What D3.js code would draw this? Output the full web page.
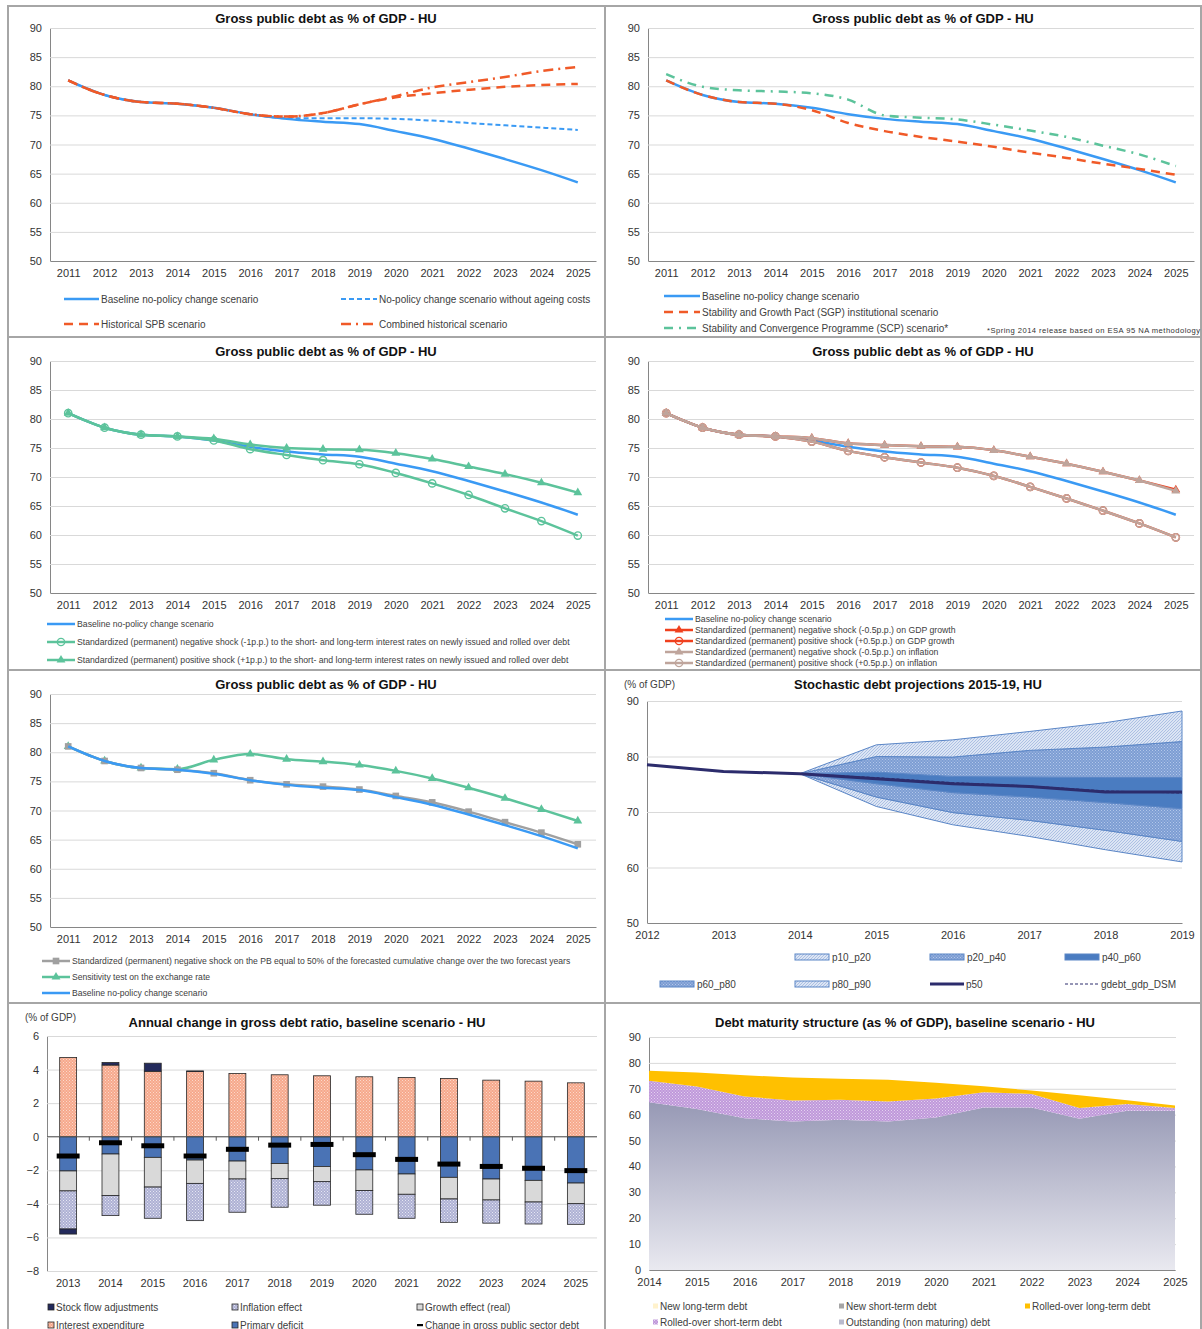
<!DOCTYPE html>
<html lang="en">
<head>
<meta charset="UTF-8">
<title>Debt sustainability - HU</title>
<script src="https://cdn.jsdelivr.net/npm/d3@7"></script>
<style>
  body { margin: 0; background: #fff; }
</style>
</head>
<body>
<svg width="1202" height="1329"></svg>
<script>
// ---- data ----
const years = [2011, 2012, 2013, 2014, 2015, 2016, 2017, 2018, 2019, 2020, 2021, 2022, 2023, 2024, 2025];
const baseline = [81.0, 78.5, 77.3, 77.0, 76.3, 75.2, 74.4, 73.9, 73.5, 72.3, 71.0, 69.3, 67.5, 65.6, 63.5];
const noAgeing = [81.0, 78.5, 77.3, 77.0, 76.3, 75.2, 74.5, 74.5, 74.5, 74.4, 74.1, 73.7, 73.3, 72.9, 72.5];
const histSpb = [81.0, 78.5, 77.3, 77.0, 76.3, 75.2, 74.8, 75.4, 76.9, 78.1, 78.8, 79.4, 79.9, 80.2, 80.4];
const combinedHist = [81.0, 78.5, 77.3, 77.0, 76.3, 75.2, 74.8, 75.4, 76.9, 78.3, 79.8, 80.7, 81.6, 82.6, 83.3];
const sgp = [81.0, 78.5, 77.3, 77.0, 75.9, 73.7, 72.3, 71.3, 70.5, 69.6, 68.6, 67.7, 66.7, 65.8, 64.8];
const scp = [82.1, 79.9, 79.3, 79.1, 78.8, 77.7, 75.0, 74.6, 74.3, 73.4, 72.4, 71.3, 69.8, 68.3, 66.3];
const irNeg = [81.0, 78.5, 77.3, 77.0, 76.3, 74.8, 73.8, 72.9, 72.2, 70.7, 68.9, 66.9, 64.6, 62.4, 59.9];
const irPos = [81.0, 78.5, 77.3, 77.0, 76.6, 75.6, 75.0, 74.8, 74.7, 74.1, 73.1, 71.8, 70.5, 69.0, 67.3];
const gdpNeg = [81.0, 78.5, 77.3, 77.0, 76.7, 75.8, 75.5, 75.3, 75.2, 74.6, 73.5, 72.3, 70.9, 69.4, 67.8];
const gdpPos = [81.0, 78.5, 77.3, 77.0, 76.1, 74.5, 73.4, 72.5, 71.6, 70.2, 68.3, 66.3, 64.2, 62.0, 59.6];
const inflNeg = [81.0, 78.5, 77.3, 77.0, 76.7, 75.8, 75.5, 75.3, 75.2, 74.6, 73.5, 72.3, 70.9, 69.4, 67.6];
const inflPos = [81.0, 78.5, 77.3, 77.0, 76.1, 74.5, 73.4, 72.5, 71.6, 70.2, 68.3, 66.3, 64.2, 62.0, 59.6];
const pbShock = [81.0, 78.5, 77.3, 77.0, 76.4, 75.2, 74.5, 74.1, 73.6, 72.5, 71.4, 69.8, 68.0, 66.2, 64.2];
const exchRate = [81.0, 78.5, 77.3, 77.1, 78.7, 79.7, 78.8, 78.4, 77.8, 76.8, 75.5, 73.9, 72.1, 70.2, 68.2];
const yTicksDebt = [50, 55, 60, 65, 70, 75, 80, 85, 90];

const stochYears = [2012, 2013, 2014, 2015, 2016, 2017, 2018, 2019];
const p50 = [78.5, 77.3, 76.9, 76.0, 75.1, 74.6, 73.6, 73.6];
const dsm = [78.5, 77.3, 76.9, 76.2, 75.3, 74.7, 73.8, 73.4];
const fanYears = [2014, 2015, 2016, 2017, 2018, 2019];
const p10 = [76.9, 71.0, 67.7, 65.6, 63.2, 61.0];
const p20 = [76.9, 72.7, 69.9, 68.5, 66.7, 64.7];
const p40 = [76.9, 75.1, 73.5, 72.7, 71.7, 70.6];
const p60 = [76.9, 77.2, 76.4, 76.3, 76.2, 76.2];
const p80 = [76.9, 80.0, 79.9, 81.1, 81.7, 82.7];
const p90 = [76.9, 82.1, 83.0, 84.5, 86.1, 88.2];
const yTicksStoch = [50, 60, 70, 80, 90];

const barYears = [2013, 2014, 2015, 2016, 2017, 2018, 2019, 2020, 2021, 2022, 2023, 2024, 2025];
const primaryDef = [-2.04, -1.03, -1.23, -1.39, -1.45, -1.60, -1.77, -1.98, -2.22, -2.42, -2.52, -2.60, -2.76];
const interestExp = [4.72, 4.27, 3.90, 3.88, 3.77, 3.69, 3.63, 3.57, 3.53, 3.47, 3.37, 3.31, 3.21];
const growthEff = [-1.19, -2.47, -1.77, -1.39, -1.07, -0.90, -0.91, -1.23, -1.21, -1.29, -1.25, -1.29, -1.23];
const inflationEff = [-2.27, -1.20, -1.86, -2.22, -1.98, -1.70, -1.40, -1.41, -1.43, -1.39, -1.38, -1.31, -1.23];
const stockFlow = [-0.30, 0.15, 0.48, 0.04, 0, 0, 0, 0, 0, 0, 0, 0, 0];
const debtChange = [-1.15, -0.36, -0.54, -1.15, -0.75, -0.50, -0.46, -1.07, -1.35, -1.63, -1.77, -1.88, -2.02];
const yTicksBars = [-8, -6, -4, -2, 0, 2, 4, 6];

const matYears = [2014, 2015, 2016, 2017, 2018, 2019, 2020, 2021, 2022, 2023, 2024, 2025];
const outstanding = [64.8, 62.2, 58.6, 57.4, 58.0, 57.4, 58.9, 62.8, 62.8, 58.4, 61.5, 61.5];
const rolledShort = [8.3, 8.7, 8.4, 8.1, 7.8, 7.7, 7.3, 5.9, 5.2, 4.2, 2.6, 1.1];
const rolledLong = [3.9, 5.4, 8.2, 8.9, 8.1, 8.4, 6.1, 2.3, 1.3, 4.9, 1.5, 0.9];
const newShort = [0, 0, 0, 0, 0, 0, 0, 0, 0, 0, 0, 0];
const newLong = [0, 0, 0, 0, 0, 0, 0, 0, 0, 0, 0, 0];
const yTicksMat = [0, 10, 20, 30, 40, 50, 60, 70, 80, 90];

// ---- setup ----
const FONT = '"Liberation Sans", Arial, Helvetica, sans-serif';
const BLUE = '#3a9af4', ORANGE = '#f05a28', TEAL = '#5cc39b', BROWN = '#bfa59c', GREY = '#a0a0a0';
const svg = d3.select('svg').attr('font-family', FONT);
const defs = svg.append('defs');

function dotPattern(id, bg, fg, size) {
  const p = defs.append('pattern').attr('id', id).attr('patternUnits', 'userSpaceOnUse')
    .attr('width', size).attr('height', size);
  p.append('rect').attr('width', size).attr('height', size).attr('fill', bg);
  p.append('rect').attr('width', 1).attr('height', 1).attr('fill', fg);
  p.append('rect').attr('x', size / 2).attr('y', size / 2).attr('width', 1).attr('height', 1).attr('fill', fg);
}
function hatchPattern(id, bg, fg, size) {
  const p = defs.append('pattern').attr('id', id).attr('patternUnits', 'userSpaceOnUse')
    .attr('width', size).attr('height', size);
  p.append('rect').attr('width', size).attr('height', size).attr('fill', bg);
  p.append('path').attr('d', `M0,${size}L${size},0M-1,1L1,-1M${size - 1},${size + 1}L${size + 1},${size - 1}`)
    .attr('stroke', fg).attr('stroke-width', 0.8);
}
hatchPattern('fanLight', '#dce5f4', '#9fb6de', 3);
dotPattern('fanMed', '#7c9dd3', '#b3c7ea', 3);
dotPattern('dotSalmon', '#f6a88c', '#fcd9ca', 3);
dotPattern('dotLav', '#aeb1d4', '#e6e7f3', 3);
dotPattern('dotPurple', '#bf98da', '#e4d2f0', 3);
const grad = defs.append('linearGradient').attr('id', 'gradOut').attr('x1', 0).attr('y1', 0).attr('x2', 0).attr('y2', 1);
grad.append('stop').attr('offset', '0%').attr('stop-color', '#9799b5');
grad.append('stop').attr('offset', '100%').attr('stop-color', '#e9e9f0');

// panel frames
const frames = [[8, 6, 597, 331], [605, 6, 596, 331], [8, 337, 597, 333], [605, 337, 596, 333],
                [8, 670, 597, 333], [605, 670, 596, 333], [8, 1003, 597, 330], [605, 1003, 596, 330]];
svg.selectAll('rect.frame').data(frames).join('rect').attr('class', 'frame')
  .attr('x', d => d[0]).attr('y', d => d[1]).attr('width', d => d[2]).attr('height', d => d[3])
  .attr('fill', 'none').attr('stroke', '#a6a6a6').attr('stroke-width', 2);

function styleAxis(a) {
  a.attr('font-family', FONT).attr('font-size', 11);
  a.selectAll('text').attr('fill', '#333');
  a.select('.domain').attr('stroke', '#868686');
  a.selectAll('.tick line').attr('stroke', '#d9d9d9');
}
function title(x, y, txt) {
  svg.append('text').attr('x', x).attr('y', y).attr('text-anchor', 'middle')
    .attr('font-size', 13).attr('font-weight', 'bold').attr('fill', '#111').text(txt);
}
function markerShape(m) {
  if (m === 'tri') return d3.symbol(d3.symbolTriangle, 34)();
  if (m === 'circ') return d3.symbol(d3.symbolCircle, 42)();
  return d3.symbol(d3.symbolSquare, 44)();
}
function markerStyle(sel, m, color) {
  if (m === 'circ') sel.attr('fill', 'none').attr('stroke', color).attr('stroke-width', 1.4);
  else sel.attr('fill', color).attr('stroke', 'none');
}
function legend(items, fs) {
  items.forEach(it => {
    svg.append('line').attr('x1', it.x).attr('x2', it.x + it.len).attr('y1', it.y).attr('y2', it.y)
      .attr('stroke', it.color).attr('stroke-width', it.width || 2.5).attr('stroke-dasharray', it.dash || null);
    if (it.marker) {
      svg.append('path').attr('transform', `translate(${it.x + it.len / 2},${it.y})`)
        .attr('d', markerShape(it.marker)).call(markerStyle, it.marker, it.color);
    }
    svg.append('text').attr('x', it.x + it.len + 2).attr('y', it.y).attr('dy', '0.35em')
      .attr('font-size', fs).attr('fill', '#404040').text(it.label);
  });
}

function linePanel(o) {
  const g = svg.append('g');
  const x = d3.scalePoint().domain(years).range([o.left, o.right]).padding(0.5);
  const y = d3.scaleLinear().domain([50, 90]).range([o.bottom, o.top]);
  g.append('g').attr('transform', `translate(${o.left},0)`)
    .call(d3.axisLeft(y).tickValues(yTicksDebt).tickSize(-(o.right - o.left)).tickSizeOuter(0).tickPadding(8))
    .call(styleAxis);
  g.append('g').attr('transform', `translate(0,${o.bottom})`)
    .call(d3.axisBottom(x).tickSize(0).tickPadding(8))
    .call(styleAxis);
  const line = d3.line().x(d => x(d[0])).y(d => y(d[1])).curve(d3.curveMonotoneX);
  o.series.forEach(s => {
    const pts = years.map((yr, i) => [yr, s.values[i]]);
    g.append('path').datum(pts).attr('d', line).attr('fill', 'none').attr('stroke', s.color)
      .attr('stroke-width', s.width || 2.5).attr('stroke-dasharray', s.dash || null);
    if (s.marker) {
      g.append('g').selectAll('path').data(pts).join('path')
        .attr('transform', d => `translate(${x(d[0])},${y(d[1])})`)
        .attr('d', markerShape(s.marker)).call(markerStyle, s.marker, s.color);
    }
  });
  title(o.titleX, o.titleY, 'Gross public debt as % of GDP - HU');
}

// ---- panel 1 ----
linePanel({
  left: 50, right: 596, top: 28, bottom: 261, titleX: 326, titleY: 23,
  series: [
    { values: baseline, color: BLUE },
    { values: noAgeing, color: BLUE, dash: '5,3', width: 2 },
    { values: histSpb, color: ORANGE, dash: '9,6' },
    { values: combinedHist, color: ORANGE, dash: '10,5,2,5' }
  ]
});
legend([
  { x: 64, y: 299, len: 35, color: BLUE, label: 'Baseline no-policy change scenario' },
  { x: 341, y: 299, len: 36, color: BLUE, dash: '5,3', width: 2, label: 'No-policy change scenario without ageing costs' },
  { x: 64, y: 324, len: 35, color: ORANGE, dash: '9,6', label: 'Historical SPB scenario' },
  { x: 341, y: 324, len: 36, color: ORANGE, dash: '10,5,2,5', label: 'Combined historical scenario' }
], 10);

// ---- panel 2 ----
linePanel({
  left: 648, right: 1194, top: 28, bottom: 261, titleX: 923, titleY: 23,
  series: [
    { values: scp, color: TEAL, dash: '9,6,2,6' },
    { values: baseline, color: BLUE },
    { values: sgp, color: ORANGE, dash: '9,6' }
  ]
});
legend([
  { x: 664, y: 296, len: 36, color: BLUE, label: 'Baseline no-policy change scenario' },
  { x: 664, y: 312, len: 36, color: ORANGE, dash: '9,6', label: 'Stability and Growth Pact (SGP) institutional scenario' },
  { x: 664, y: 328, len: 36, color: TEAL, dash: '9,6,2,6', label: 'Stability and Convergence Programme (SCP) scenario*' }
], 10);
svg.append('text').attr('x', 987).attr('y', 333).attr('font-size', 7.6).attr('fill', '#333')
  .attr('textLength', 213).text('*Spring 2014  release based on ESA 95 NA methodology');

// ---- panel 3 ----
linePanel({
  left: 50, right: 596, top: 361, bottom: 593, titleX: 326, titleY: 356,
  series: [
    { values: baseline, color: BLUE },
    { values: irNeg, color: TEAL, marker: 'circ' },
    { values: irPos, color: TEAL, marker: 'tri' }
  ]
});
legend([
  { x: 47, y: 624, len: 28, color: BLUE, label: 'Baseline no-policy change scenario' },
  { x: 47, y: 642, len: 28, color: TEAL, marker: 'circ', label: 'Standardized (permanent) negative shock (-1p.p.) to the short- and long-term interest rates on newly issued and rolled over debt' },
  { x: 47, y: 660, len: 28, color: TEAL, marker: 'tri', label: 'Standardized (permanent) positive shock (+1p.p.) to the short- and long-term interest rates on newly issued and rolled over debt' }
], 8.7);

// ---- panel 4 ----
linePanel({
  left: 648, right: 1194, top: 361, bottom: 593, titleX: 923, titleY: 356,
  series: [
    { values: baseline, color: BLUE },
    { values: gdpNeg, color: '#f0401e', marker: 'tri' },
    { values: gdpPos, color: '#f0401e', marker: 'circ' },
    { values: inflNeg, color: BROWN, marker: 'tri' },
    { values: inflPos, color: BROWN, marker: 'circ' }
  ]
});
legend([
  { x: 665, y: 619, len: 28, color: BLUE, label: 'Baseline no-policy change scenario' },
  { x: 665, y: 630, len: 28, color: '#f0401e', marker: 'tri', label: 'Standardized (permanent) negative shock (-0.5p.p.) on GDP growth' },
  { x: 665, y: 641, len: 28, color: '#f0401e', marker: 'circ', label: 'Standardized (permanent) positive shock (+0.5p.p.) on GDP growth' },
  { x: 665, y: 652, len: 28, color: BROWN, marker: 'tri', label: 'Standardized (permanent) negative shock (-0.5p.p.) on inflation' },
  { x: 665, y: 663, len: 28, color: BROWN, marker: 'circ', label: 'Standardized (permanent) positive shock (+0.5p.p.) on inflation' }
], 8.7);

// ---- panel 5 ----
linePanel({
  left: 50, right: 596, top: 694, bottom: 927, titleX: 326, titleY: 689,
  series: [
    { values: exchRate, color: TEAL, marker: 'tri' },
    { values: pbShock, color: GREY, marker: 'sq' },
    { values: baseline, color: BLUE }
  ]
});
legend([
  { x: 42, y: 961, len: 28, color: GREY, marker: 'sq', label: 'Standardized (permanent) negative shock on the PB equal to 50% of the forecasted cumulative change over the two forecast years' },
  { x: 42, y: 977, len: 28, color: TEAL, marker: 'tri', label: 'Sensitivity test on the exchange rate' },
  { x: 42, y: 993, len: 28, color: BLUE, label: 'Baseline no-policy change scenario' }
], 8.6);

// ---- panel 6: stochastic projections ----
(function () {
  const left = 647, right = 1182, top = 701, bottom = 923;
  const g = svg.append('g');
  const x = d3.scaleLinear().domain([2012, 2019]).range([left, right]);
  const y = d3.scaleLinear().domain([50, 90]).range([bottom, top]);
  g.append('g').attr('transform', `translate(${left},0)`)
    .call(d3.axisLeft(y).tickValues(yTicksStoch).tickSize(-(right - left)).tickSizeOuter(0).tickPadding(8))
    .call(styleAxis);
  g.append('g').attr('transform', `translate(0,${bottom})`)
    .call(d3.axisBottom(x).tickValues(stochYears).tickFormat(d3.format('d')).tickSize(0).tickPadding(8))
    .call(styleAxis);
  const bands = [
    { lo: p10, hi: p20, fill: 'url(#fanLight)' },
    { lo: p20, hi: p40, fill: 'url(#fanMed)' },
    { lo: p40, hi: p60, fill: '#4a7cc1' },
    { lo: p60, hi: p80, fill: 'url(#fanMed)' },
    { lo: p80, hi: p90, fill: 'url(#fanLight)' }
  ];
  const area = d3.area().x(d => x(d[0])).y0(d => y(d[1])).y1(d => y(d[2]));
  bands.forEach(b => {
    const pts = fanYears.map((yr, i) => [yr, b.lo[i], b.hi[i]]);
    g.append('path').datum(pts).attr('d', area).attr('fill', b.fill)
      .attr('stroke', '#5b86c6').attr('stroke-width', 1);
  });
  const line = d3.line().x(d => x(d[0])).y(d => y(d[1]));
  g.append('path').datum(stochYears.map((yr, i) => [yr, p50[i]])).attr('d', line)
    .attr('fill', 'none').attr('stroke', '#2c2c6c').attr('stroke-width', 3);
  g.append('path').datum(stochYears.map((yr, i) => [yr, dsm[i]])).attr('d', line)
    .attr('fill', 'none').attr('stroke', '#2c2c6c').attr('stroke-width', 1).attr('stroke-dasharray', '3,2');
  svg.append('text').attr('x', 624).attr('y', 688).attr('font-size', 10).attr('fill', '#404040').text('(% of GDP)');
  title(918, 689, 'Stochastic debt projections 2015-19, HU');
  const sw = [
    { x: 795, y: 957, fill: 'url(#fanLight)', label: 'p10_p20' },
    { x: 930, y: 957, fill: 'url(#fanMed)', label: 'p20_p40' },
    { x: 1065, y: 957, fill: '#4a7cc1', label: 'p40_p60' },
    { x: 660, y: 984, fill: 'url(#fanMed)', label: 'p60_p80' },
    { x: 795, y: 984, fill: 'url(#fanLight)', label: 'p80_p90' }
  ];
  sw.forEach(s => {
    svg.append('rect').attr('x', s.x).attr('y', s.y - 3).attr('width', 34).attr('height', 6)
      .attr('fill', s.fill).attr('stroke', '#5b86c6').attr('stroke-width', 1);
    svg.append('text').attr('x', s.x + 37).attr('y', s.y).attr('dy', '0.35em').attr('font-size', 10)
      .attr('fill', '#404040').text(s.label);
  });
  legend([
    { x: 930, y: 984, len: 34, color: '#2c2c6c', width: 3, label: 'p50' },
    { x: 1065, y: 984, len: 34, color: '#2c2c6c', width: 1, dash: '3,2', label: 'gdebt_gdp_DSM' }
  ], 10);
})();

// ---- panel 7: annual change bars ----
(function () {
  const left = 47, right = 597, top = 1036, bottom = 1271;
  const g = svg.append('g');
  const x = d3.scaleBand().domain(barYears).range([left, right]).paddingInner(0.6).paddingOuter(0.3);
  const y = d3.scaleLinear().domain([-8, 6]).range([bottom, top]);
  g.append('g').attr('transform', `translate(${left},0)`)
    .call(d3.axisLeft(y).tickValues(yTicksBars).tickSize(-(right - left)).tickSizeOuter(0).tickPadding(8))
    .call(styleAxis);
  g.append('g').attr('transform', `translate(0,${bottom})`)
    .call(d3.axisBottom(x).tickSize(0).tickPadding(8))
    .call(styleAxis)
    .call(a => a.select('.domain').attr('stroke', '#d9d9d9'));
  const rows = barYears.map((yr, i) => ({
    year: yr, primary: primaryDef[i], interest: interestExp[i], growth: growthEff[i],
    inflation: inflationEff[i], sfa: stockFlow[i]
  }));
  const keys = ['primary', 'interest', 'growth', 'inflation', 'sfa'];
  const fills = { primary: '#4a73b5', interest: 'url(#dotSalmon)', growth: '#d9d9d9', inflation: 'url(#dotLav)', sfa: '#232a5c' };
  const series = d3.stack().keys(keys).offset(d3.stackOffsetDiverging)(rows);
  g.append('g').selectAll('g').data(series).join('g').attr('fill', s => fills[s.key])
    .selectAll('rect').data(s => s.filter(d => d[0] !== d[1])).join('rect')
    .attr('x', d => x(d.data.year)).attr('width', x.bandwidth())
    .attr('y', d => y(Math.max(d[0], d[1]))).attr('height', d => Math.abs(y(d[0]) - y(d[1])))
    .attr('stroke', '#262626').attr('stroke-width', 0.8);
  // zero line with category ticks
  g.append('line').attr('x1', left).attr('x2', right).attr('y1', y(0)).attr('y2', y(0))
    .attr('stroke', '#595959').attr('stroke-width', 1);
  const gap = x.step() * x.paddingInner() / 2;
  g.append('g').selectAll('line').data(barYears.slice(1)).join('line')
    .attr('x1', d => x(d) - gap).attr('x2', d => x(d) - gap)
    .attr('y1', y(0)).attr('y2', y(0) + 4).attr('stroke', '#595959');
  g.append('g').selectAll('rect').data(barYears.map((yr, i) => [yr, debtChange[i]])).join('rect')
    .attr('x', d => x(d[0]) - 3).attr('width', x.bandwidth() + 6)
    .attr('y', d => y(d[1]) - 2.5).attr('height', 5).attr('fill', '#000');
  svg.append('text').attr('x', 25).attr('y', 1021).attr('font-size', 10).attr('fill', '#404040').text('(% of GDP)');
  title(307, 1027, 'Annual change in gross debt ratio, baseline scenario - HU');
  const items = [
    { x: 48, y: 1307, fill: fills.sfa, label: 'Stock flow adjustments' },
    { x: 232, y: 1307, fill: fills.inflation, label: 'Inflation effect' },
    { x: 417, y: 1307, fill: fills.growth, label: 'Growth effect (real)' },
    { x: 48, y: 1325, fill: fills.interest, label: 'Interest expenditure' },
    { x: 232, y: 1325, fill: fills.primary, label: 'Primary deficit' }
  ];
  items.forEach(it => {
    svg.append('rect').attr('x', it.x).attr('y', it.y - 3).attr('width', 6).attr('height', 6)
      .attr('fill', it.fill).attr('stroke', '#262626').attr('stroke-width', 0.8);
    svg.append('text').attr('x', it.x + 8).attr('y', it.y).attr('dy', '0.35em').attr('font-size', 10)
      .attr('fill', '#404040').text(it.label);
  });
  svg.append('rect').attr('x', 417).attr('y', 1324).attr('width', 6).attr('height', 2.2).attr('fill', '#000');
  svg.append('text').attr('x', 425).attr('y', 1325).attr('dy', '0.35em').attr('font-size', 10)
    .attr('fill', '#404040').text('Change in gross public sector debt');
})();

// ---- panel 8: debt maturity structure ----
(function () {
  const left = 649, right = 1175, top = 1037, bottom = 1270;
  const g = svg.append('g');
  const x = d3.scaleLinear().domain([2014, 2025]).range([left, right]);
  const y = d3.scaleLinear().domain([0, 90]).range([bottom, top]);
  g.append('g').attr('transform', `translate(${left},0)`)
    .call(d3.axisLeft(y).tickValues(yTicksMat).tickSize(-(right - left + 1)).tickSizeOuter(0).tickPadding(8))
    .call(styleAxis);
  const rows = matYears.map((yr, i) => ({
    year: yr, outstanding: outstanding[i], rolledShort: rolledShort[i], rolledLong: rolledLong[i],
    newShort: newShort[i], newLong: newLong[i]
  }));
  const keys = ['outstanding', 'rolledShort', 'rolledLong', 'newShort', 'newLong'];
  const fills = { outstanding: 'url(#gradOut)', rolledShort: 'url(#dotPurple)', rolledLong: '#ffc000', newShort: '#a5a5a5', newLong: '#fff2cc' };
  const series = d3.stack().keys(keys)(rows);
  const area = d3.area().x(d => x(d.data.year)).y0(d => y(d[0])).y1(d => y(d[1]));
  g.append('g').selectAll('path').data(series).join('path')
    .attr('d', area).attr('fill', s => fills[s.key]);
  g.append('g').attr('transform', `translate(0,${bottom})`)
    .call(d3.axisBottom(x).tickValues(matYears).tickFormat(d3.format('d')).tickSize(0).tickPadding(8))
    .call(styleAxis);
  title(905, 1027, 'Debt maturity structure (as % of GDP), baseline scenario - HU');
  const items = [
    { x: 653, y: 1306, fill: fills.newLong, label: 'New long-term debt' },
    { x: 839, y: 1306, fill: fills.newShort, label: 'New short-term debt' },
    { x: 1025, y: 1306, fill: fills.rolledLong, label: 'Rolled-over long-term debt' },
    { x: 653, y: 1322, fill: fills.rolledShort, label: 'Rolled-over short-term debt' },
    { x: 839, y: 1322, fill: '#b9bacd', label: 'Outstanding (non maturing) debt' }
  ];
  items.forEach(it => {
    svg.append('rect').attr('x', it.x).attr('y', it.y - 2.5).attr('width', 5).attr('height', 5).attr('fill', it.fill);
    svg.append('text').attr('x', it.x + 7).attr('y', it.y).attr('dy', '0.35em').attr('font-size', 10)
      .attr('fill', '#404040').text(it.label);
  });
})();
</script>
</body>
</html>
